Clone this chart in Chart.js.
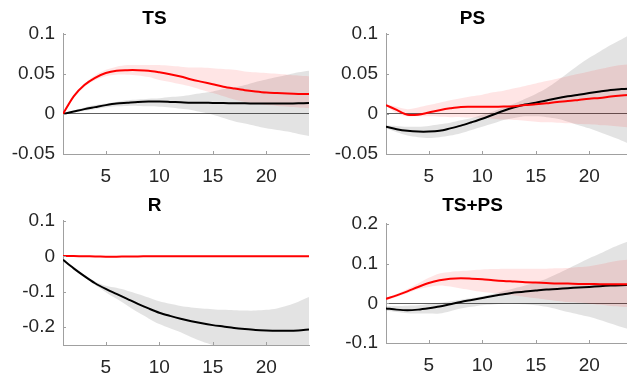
<!DOCTYPE html>
<html>
<head>
<meta charset="utf-8">
<script src="https://cdn.jsdelivr.net/npm/chart.js@4/dist/chart.umd.min.js"></script>
<style>
  html, body { margin: 0; padding: 0; background: #fff; overflow: hidden; width: 627px; height: 378px; }
  canvas { position: absolute; }
</style>
</head>
<body>
<canvas id="ts" width="320" height="189" style="left:0;top:0"></canvas>
<canvas id="ps" width="320" height="189" style="left:313px;top:0"></canvas>
<canvas id="r" width="320" height="193" style="left:0;top:185px"></canvas>
<canvas id="tsps" width="320" height="193" style="left:313px;top:185px"></canvas>
<script>
// Horizon (x axis)
const steps = [1,2,3,4,5,6,7,8,9,10,11,12,13,14,15,16,17,18,19,20,21,22,23,24];
const xTicks = [5, 10, 15, 20];

// TS
const tsRed    = [0, 0.022, 0.036, 0.045, 0.051, 0.054, 0.0546, 0.0546, 0.054, 0.052, 0.0496, 0.0467, 0.043, 0.040, 0.037, 0.034, 0.0317, 0.0296, 0.028, 0.0267, 0.026, 0.0254, 0.025, 0.025];
const tsRedHi  = [0, 0.023, 0.038, 0.048, 0.055, 0.059, 0.061, 0.061, 0.061, 0.061, 0.060, 0.059, 0.058, 0.058, 0.057, 0.056, 0.055, 0.053, 0.052, 0.051, 0.050, 0.049, 0.048, 0.047];
const tsRedLo  = [0, 0.021, 0.034, 0.042, 0.047, 0.049, 0.049, 0.048, 0.046, 0.0425, 0.040, 0.037, 0.034, 0.030, 0.026, 0.022, 0.018, 0.015, 0.013, 0.011, 0.010, 0.009, 0.008, 0.007];
const tsBlack  = [0, 0.003, 0.006, 0.0085, 0.011, 0.013, 0.014, 0.015, 0.0154, 0.0154, 0.015, 0.0145, 0.014, 0.014, 0.0137, 0.0135, 0.0133, 0.0132, 0.0131, 0.013, 0.013, 0.013, 0.0132, 0.0135];
const tsBlackHi = [0, 0.004, 0.008, 0.011, 0.013, 0.015, 0.017, 0.018, 0.019, 0.0196, 0.021, 0.022, 0.024, 0.026, 0.028, 0.031, 0.033, 0.036, 0.040, 0.043, 0.046, 0.049, 0.052, 0.054];
const tsBlackLo = [0, 0.002, 0.004, 0.006, 0.008, 0.0095, 0.010, 0.010, 0.0095, 0.009, 0.008, 0.0065, 0.005, 0.002, -0.001, -0.005, -0.009, -0.012, -0.015, -0.018, -0.020, -0.022, -0.025, -0.0275];

// PS
const psRed    = [0.011, 0.005, -0.001, -0.001, 0.0017, 0.0046, 0.007, 0.0088, 0.009, 0.009, 0.009, 0.0092, 0.0096, 0.011, 0.012, 0.0133, 0.015, 0.016, 0.0175, 0.019, 0.020, 0.0217, 0.023, 0.024];
const psRedHi  = [0.012, 0.009, 0.006, 0.008, 0.011, 0.014, 0.017, 0.0196, 0.022, 0.024, 0.027, 0.029, 0.032, 0.035, 0.038, 0.041, 0.044, 0.047, 0.050, 0.053, 0.056, 0.059, 0.061, 0.062];
const psRedLo  = [0.010, 0.001, -0.003, -0.003, -0.003, -0.0035, -0.004, -0.004, -0.0045, -0.005, -0.006, -0.007, -0.0075, -0.0085, -0.0096, -0.0105, -0.011, -0.0117, -0.0125, -0.013, -0.014, -0.0146, -0.016, -0.0175];
const psBlack  = [-0.016, -0.019, -0.021, -0.022, -0.022, -0.021, -0.018, -0.0146, -0.0104, -0.006, -0.001, 0.004, 0.0083, 0.0117, 0.014, 0.0167, 0.0196, 0.022, 0.024, 0.026, 0.028, 0.030, 0.031, 0.0317];
const psBlackHi = [-0.014, -0.015, -0.016, -0.016, -0.015, -0.013, -0.011, -0.008, -0.005, -0.001, 0.003, 0.008, 0.013, 0.019, 0.025, 0.032, 0.041, 0.051, 0.061, 0.070, 0.078, 0.086, 0.093, 0.100];
const psBlackLo = [-0.018, -0.023, -0.027, -0.029, -0.030, -0.029, -0.027, -0.024, -0.020, -0.016, -0.012, -0.0075, -0.005, -0.003, -0.003, -0.004, -0.006, -0.0096, -0.014, -0.018, -0.023, -0.028, -0.033, -0.039];

// R
const rRed     = [0.001, 0.0005, 0, -0.0005, -0.001, -0.001, -0.0008, -0.0005, 0, 0, 0, 0, 0, 0, 0, 0, 0, 0, 0, 0, 0, 0, 0, 0];
const rRedHi   = [0.002, 0.0015, 0.001, 0.0005, 0, 0, 0.0002, 0.0005, 0.001, 0.001, 0.001, 0.001, 0.001, 0.001, 0.001, 0.001, 0.001, 0.001, 0.001, 0.001, 0.001, 0.001, 0.001, 0.001];
const rRedLo   = [0, -0.0005, -0.001, -0.0015, -0.002, -0.002, -0.0018, -0.0015, -0.001, -0.001, -0.001, -0.001, -0.001, -0.001, -0.001, -0.001, -0.001, -0.001, -0.001, -0.001, -0.001, -0.001, -0.001, -0.001];
const rBlack   = [-0.010, -0.034, -0.056, -0.076, -0.092, -0.106, -0.120, -0.134, -0.147, -0.159, -0.168, -0.176, -0.183, -0.189, -0.194, -0.198, -0.202, -0.205, -0.2075, -0.209, -0.210, -0.210, -0.209, -0.2065];
const rBlackHi = [-0.010, -0.033, -0.053, -0.071, -0.083, -0.089, -0.097, -0.106, -0.116, -0.127, -0.134, -0.140, -0.144, -0.147, -0.149, -0.151, -0.152, -0.153, -0.153, -0.151, -0.147, -0.139, -0.128, -0.115];
const rBlackLo = [-0.010, -0.035, -0.059, -0.081, -0.101, -0.120, -0.139, -0.158, -0.175, -0.191, -0.203, -0.214, -0.228, -0.240, -0.250, -0.257, -0.262, -0.265, -0.267, -0.268, -0.268, -0.267, -0.265, -0.262];

// TS+PS
const tpRed    = [0.011, 0.020, 0.030, 0.041, 0.051, 0.058, 0.062, 0.063, 0.062, 0.0605, 0.058, 0.056, 0.0546, 0.053, 0.052, 0.051, 0.050, 0.0496, 0.0487, 0.0485, 0.048, 0.048, 0.048, 0.048];
const tpRedHi  = [0.013, 0.024, 0.036, 0.050, 0.064, 0.075, 0.079, 0.081, 0.083, 0.085, 0.086, 0.087, 0.087, 0.087, 0.087, 0.087, 0.088, 0.089, 0.091, 0.093, 0.098, 0.104, 0.108, 0.110];
const tpRedLo  = [0.009, 0.016, 0.025, 0.035, 0.041, 0.045, 0.042, 0.037, 0.033, 0.0286, 0.026, 0.023, 0.0195, 0.016, 0.0125, 0.009, 0.006, 0.003, 0.001, -0.001, -0.004, -0.007, -0.009, -0.011];
const tpBlack  = [-0.013, -0.016, -0.0176, -0.016, -0.0126, -0.0084, -0.0025, 0.0034, 0.0084, 0.0134, 0.0185, 0.0227, 0.027, 0.0294, 0.032, 0.0345, 0.036, 0.038, 0.0395, 0.041, 0.043, 0.0445, 0.0454, 0.046];
const tpBlackHi = [-0.008, -0.007, -0.006, -0.005, -0.002, 0.001, 0.005, 0.009, 0.013, 0.0176, 0.024, 0.031, 0.038, 0.045, 0.053, 0.062, 0.074, 0.087, 0.100, 0.113, 0.125, 0.138, 0.149, 0.159];
const tpBlackLo = [-0.018, -0.022, -0.025, -0.026, -0.026, -0.026, -0.020, -0.013, -0.009, -0.005, -0.003, -0.001, -0.001, -0.0025, -0.005, -0.009, -0.015, -0.022, -0.028, -0.034, -0.042, -0.051, -0.060, -0.068];

const FONT = "'Liberation Sans', Arial, sans-serif";
const TEXT = "#262626";
const AXIS = "#a0a0a0";

// MATLAB style inward tick marks
const inwardTicks = {
  id: "inwardTicks",
  afterDatasetsDraw(chart) {
    const { ctx, chartArea } = chart;
    const xs = chart.scales.x, ys = chart.scales.y;
    ctx.save();
    ctx.strokeStyle = AXIS;
    ctx.lineWidth = 1;
    ctx.beginPath();
    xs.ticks.forEach(t => {
      const px = Math.round(xs.getPixelForValue(t.value)) + 0.5;
      ctx.moveTo(px, chartArea.bottom);
      ctx.lineTo(px, chartArea.bottom - 3);
    });
    ys.ticks.forEach(t => {
      const py = Math.round(ys.getPixelForValue(t.value)) + 0.5;
      ctx.moveTo(chartArea.left, py);
      ctx.lineTo(chartArea.left + 3, py);
    });
    ctx.stroke();
    ctx.restore();
  }
};

const pts = arr => steps.map((x, i) => ({ x: x, y: arr[i] }));

function band(hi, lo, color, order) {
  return [
    { data: pts(hi), borderWidth: 0, pointRadius: 0, fill: "+1", backgroundColor: color, tension: 0.3, order: order },
    { data: pts(lo), borderWidth: 0, pointRadius: 0, fill: false, tension: 0.3, order: order }
  ];
}

function line(arr, color, order) {
  return { data: pts(arr), borderColor: color, borderWidth: 2, pointRadius: 0, fill: false, tension: 0.3, order: order };
}

function makePanel(id, title, red, redHi, redLo, black, blackHi, blackLo, yMin, yMax, yTicks, lay) {
  new Chart(document.getElementById(id), {
    type: "line",
    data: {
      datasets: [
        ...band(blackHi, blackLo, "rgba(0,0,0,0.11)", 3),
        ...band(redHi, redLo, "rgba(255,0,0,0.1)", 2),
        line(black, "#000000", 1),
        line(red, "#ff0000", 0)
      ]
    },
    options: {
      responsive: false,
      animation: false,
      layout: { padding: { left: 0, right: lay.right, top: 0, bottom: 0 } },
      plugins: {
        legend: { display: false },
        tooltip: { enabled: false },
        title: {
          display: true,
          text: title,
          color: "#000",
          font: { family: FONT, size: 19, weight: "bold" },
          padding: { top: lay.titleTop, bottom: lay.titleBottom }
        }
      },
      scales: {
        x: {
          type: "linear",
          min: 1, max: 24,
          afterBuildTicks: s => { s.ticks = xTicks.map(v => ({ value: v })); },
          afterFit: s => { s.height = lay.xh; },
          grid: { display: false, drawTicks: false },
          border: { display: true, color: AXIS, width: 1 },
          ticks: { color: TEXT, font: { family: FONT, size: 19 }, padding: 11, maxRotation: 0 }
        },
        y: {
          min: yMin, max: yMax,
          afterBuildTicks: s => { s.ticks = yTicks.map(v => ({ value: v })); },
          afterFit: s => { s.width = lay.yw; },
          grid: {
            drawTicks: false,
            color: c => (c.tick && c.tick.value === 0 ? "#606060" : "rgba(0,0,0,0)"),
            lineWidth: 1
          },
          border: { display: true, color: AXIS, width: 1 },
          ticks: {
            color: TEXT,
            font: { family: FONT, size: 19 },
            padding: 8,
            callback: v => String(+v.toFixed(3))
          }
        }
      }
    },
    plugins: [inwardTicks]
  });
}

makePanel("ts", "TS", tsRed, tsRedHi, tsRedLo, tsBlack, tsBlackHi, tsBlackLo,
  -0.05, 0.1, [-0.05, 0, 0.05, 0.1], { yw: 63, xh: 35, right: 11, titleTop: 7, titleBottom: 4 });
makePanel("ps", "PS", psRed, psRedHi, psRedLo, psBlack, psBlackHi, psBlackLo,
  -0.05, 0.1, [-0.05, 0, 0.05, 0.1], { yw: 73, xh: 35, right: 1, titleTop: 7, titleBottom: 4 });
makePanel("r", "R", rRed, rRedHi, rRedLo, rBlack, rBlackHi, rBlackLo,
  -0.25, 0.1, [-0.2, -0.1, 0, 0.1], { yw: 63, xh: 33, right: 11, titleTop: 9, titleBottom: 4 });
makePanel("tsps", "TS+PS", tpRed, tpRedHi, tpRedLo, tpBlack, tpBlackHi, tpBlackLo,
  -0.1, 0.2, [-0.1, 0, 0.1, 0.2], { yw: 73, xh: 35, right: 1, titleTop: 9, titleBottom: 7 });
</script>
</body>
</html>
